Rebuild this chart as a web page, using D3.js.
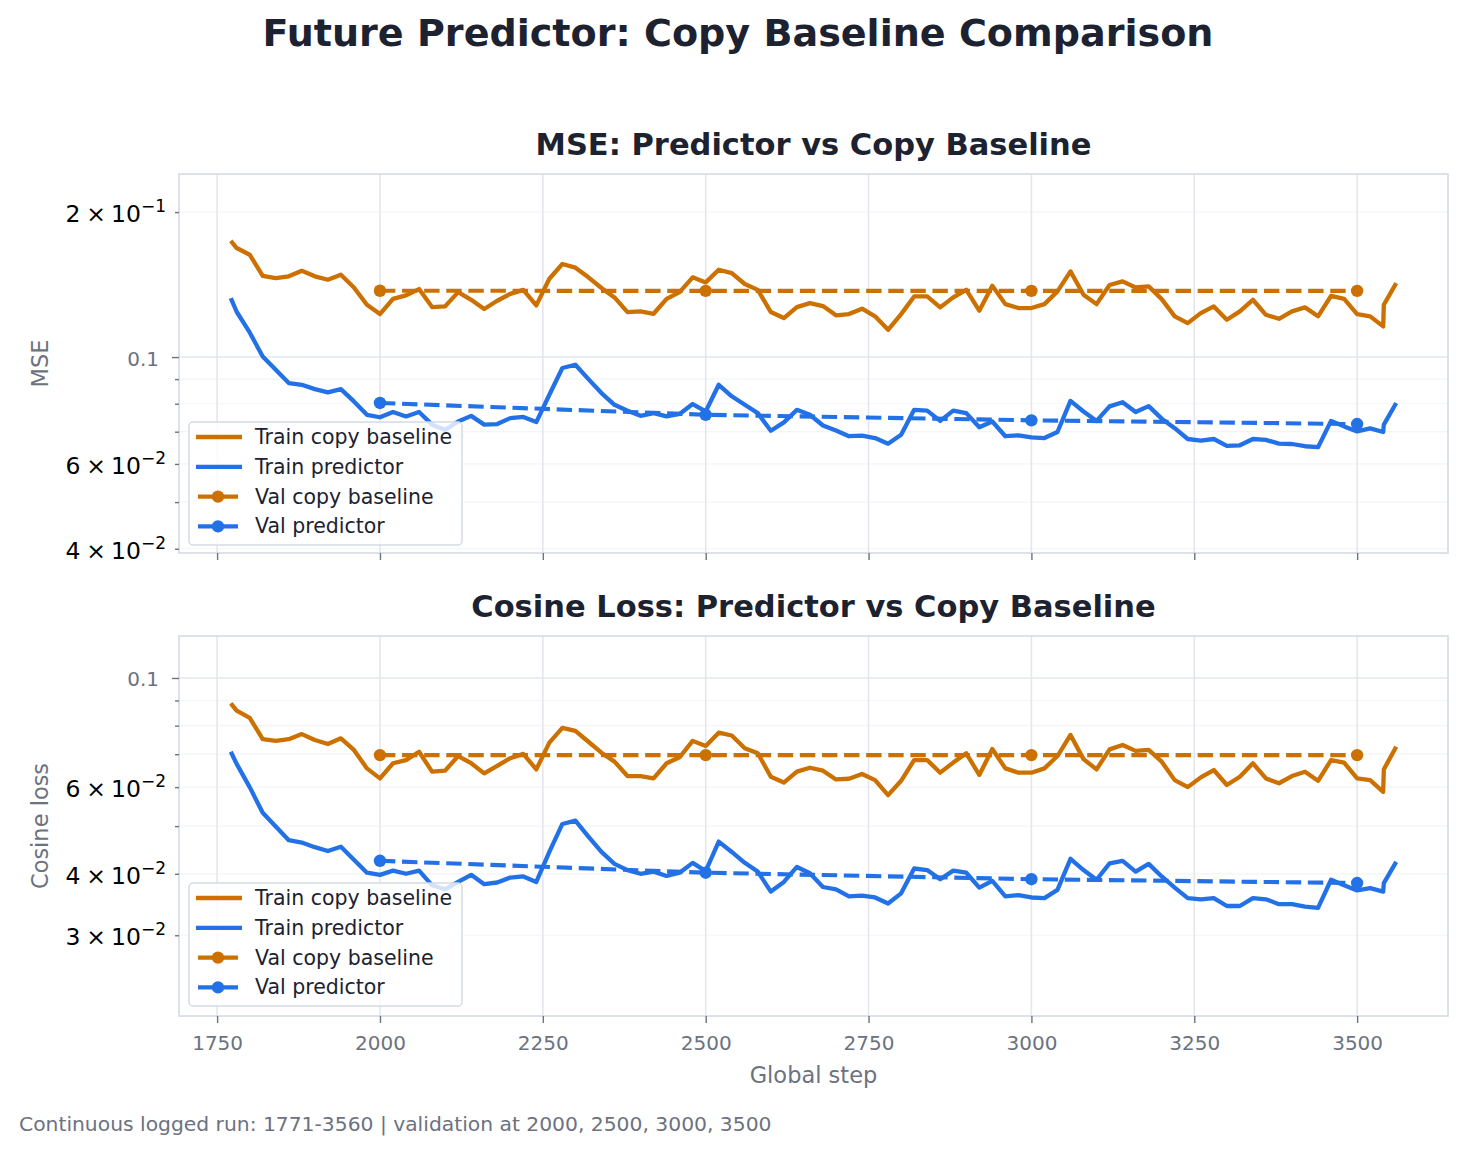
<!DOCTYPE html>
<html>
<head>
<meta charset="utf-8">
<script src="https://cdn.jsdelivr.net/npm/d3@7"></script>
<style>
body { margin: 0; background: #fff; }
svg { display: block; font-family: "DejaVu Sans", sans-serif; }
</style>
</head>
<body>
<svg id="chart" width="1466" height="1152"></svg>
<script>
// logged training steps (one log to 3540, the resumed one from 3541)
var trainSteps = [1771, 1780, 1800, 1820, 1840, 1860, 1880, 1900, 1920, 1940, 1960, 1980,
	2000, 2020, 2040, 2060, 2080, 2100, 2120, 2140, 2160, 2180, 2200, 2220, 2240, 2260, 2280,
	2300, 2320, 2340, 2360, 2380, 2400, 2420, 2440, 2460, 2480, 2500, 2520, 2540, 2560, 2580,
	2600, 2620, 2640, 2660, 2680, 2700, 2720, 2740, 2760, 2780, 2800, 2820, 2840, 2860, 2880,
	2900, 2920, 2940, 2960, 2980, 3000, 3020, 3040, 3060, 3080, 3100, 3120, 3140, 3160, 3180,
	3200, 3220, 3240, 3260, 3280, 3300, 3320, 3340, 3360, 3380, 3400, 3420, 3440, 3460, 3480,
	3500, 3520, 3540, 3541, 3560];

var trainCopyMse = [0.1743, 0.1684, 0.1631, 0.1475, 0.1459, 0.1471, 0.1510, 0.1471, 0.1447, 0.1482, 0.1395, 0.1284,
	0.1228, 0.1321, 0.1343, 0.1384, 0.1270, 0.1274, 0.1364, 0.1315, 0.1258, 0.1309, 0.1353, 0.1379, 0.1280, 0.1454, 0.1560,
	0.1533, 0.1464, 0.1391, 0.1330, 0.1240, 0.1244, 0.1230, 0.1321, 0.1364, 0.1464, 0.1429, 0.1518, 0.1494, 0.1418, 0.1379,
	0.1240, 0.1205, 0.1270, 0.1294, 0.1276, 0.1221, 0.1228, 0.1260, 0.1215, 0.1139, 0.1228, 0.1336, 0.1336, 0.1268, 0.1330,
	0.1379, 0.1248, 0.1406, 0.1288, 0.1264, 0.1264, 0.1288, 0.1369, 0.1506, 0.1347, 0.1288, 0.1411, 0.1436, 0.1395, 0.1402,
	0.1319, 0.1215, 0.1176, 0.1234, 0.1274, 0.1195, 0.1244, 0.1315, 0.1224, 0.1201, 0.1244, 0.1268, 0.1215, 0.1340, 0.1321,
	0.1228, 0.1215, 0.1158, 0.1284, 0.1424];

var trainPredMse = [0.1326, 0.1242, 0.1125, 0.1003, 0.0941, 0.0883, 0.0876, 0.0858, 0.0845, 0.0858, 0.0809, 0.0759,
	0.0750, 0.0769, 0.0753, 0.0769, 0.0724, 0.0706, 0.0735, 0.0755, 0.0724, 0.0726, 0.0747, 0.0751, 0.0733, 0.0835, 0.0949,
	0.0964, 0.0900, 0.0842, 0.0796, 0.0774, 0.0755, 0.0765, 0.0753, 0.0762, 0.0799, 0.0771, 0.0876, 0.0829, 0.0796, 0.0765,
	0.0703, 0.0732, 0.0777, 0.0759, 0.0721, 0.0704, 0.0685, 0.0687, 0.0679, 0.0661, 0.0690, 0.0777, 0.0774, 0.0737, 0.0774,
	0.0765, 0.0715, 0.0735, 0.0685, 0.0688, 0.0681, 0.0679, 0.0699, 0.0811, 0.0771, 0.0737, 0.0790, 0.0806, 0.0769, 0.0791,
	0.0745, 0.0712, 0.0676, 0.0671, 0.0676, 0.0654, 0.0656, 0.0676, 0.0673, 0.0661, 0.0660, 0.0653, 0.0650, 0.0737, 0.0718,
	0.0701, 0.0711, 0.0699, 0.0724, 0.0803];

var trainCopyCos = [0.0888, 0.0858, 0.0830, 0.0751, 0.0745, 0.0751, 0.0769, 0.0748, 0.0734, 0.0754, 0.0714, 0.0655,
	0.0625, 0.0671, 0.0681, 0.0708, 0.0645, 0.0648, 0.0694, 0.0671, 0.0640, 0.0663, 0.0687, 0.0701, 0.0652, 0.0739, 0.0792,
	0.0781, 0.0742, 0.0705, 0.0676, 0.0632, 0.0632, 0.0625, 0.0671, 0.0690, 0.0745, 0.0727, 0.0774, 0.0764, 0.0720, 0.0703,
	0.0630, 0.0613, 0.0645, 0.0657, 0.0648, 0.0622, 0.0624, 0.0638, 0.0620, 0.0578, 0.0618, 0.0681, 0.0681, 0.0642, 0.0673,
	0.0703, 0.0635, 0.0717, 0.0655, 0.0642, 0.0642, 0.0655, 0.0694, 0.0766, 0.0684, 0.0652, 0.0716, 0.0731, 0.0711, 0.0714,
	0.0676, 0.0620, 0.0600, 0.0628, 0.0650, 0.0606, 0.0630, 0.0671, 0.0625, 0.0611, 0.0632, 0.0645, 0.0618, 0.0681, 0.0673,
	0.0625, 0.0620, 0.0587, 0.0652, 0.0725];

var trainPredCos = [0.0708, 0.0669, 0.0600, 0.0532, 0.0499, 0.0468, 0.0463, 0.0453, 0.0445, 0.0454, 0.0427, 0.0402,
	0.0398, 0.0406, 0.0400, 0.0406, 0.0379, 0.0372, 0.0385, 0.0398, 0.0381, 0.0384, 0.0393, 0.0395, 0.0385, 0.0443, 0.0505,
	0.0513, 0.0476, 0.0443, 0.0419, 0.0407, 0.0400, 0.0404, 0.0396, 0.0402, 0.0421, 0.0405, 0.0465, 0.0443, 0.0421, 0.0404,
	0.0368, 0.0385, 0.0413, 0.0401, 0.0376, 0.0372, 0.0360, 0.0361, 0.0358, 0.0348, 0.0365, 0.0410, 0.0407, 0.0390, 0.0406,
	0.0402, 0.0375, 0.0387, 0.0360, 0.0362, 0.0358, 0.0357, 0.0371, 0.0429, 0.0407, 0.0389, 0.0420, 0.0425, 0.0404, 0.0419,
	0.0395, 0.0375, 0.0357, 0.0355, 0.0357, 0.0344, 0.0344, 0.0357, 0.0355, 0.0347, 0.0347, 0.0343, 0.0341, 0.0389, 0.0379,
	0.0370, 0.0374, 0.0368, 0.0383, 0.0423];

var valSteps = [2000, 2500, 3000, 3500];
var valCopyMse = [0.1373, 0.1372, 0.1372, 0.1372];
var valPredMse = [0.0803, 0.0759, 0.0739, 0.0726];
var valCopyCos = [0.0697, 0.0697, 0.0697, 0.0697];
var valPredCos = [0.0425, 0.0402, 0.0390, 0.0383];

var xTicks = [1750, 2000, 2250, 2500, 2750, 3000, 3250, 3500];
var mseMinor = [0.04, 0.05, 0.06, 0.07, 0.08, 0.09, 0.2];
var cosMinor = [0.03, 0.04, 0.05, 0.06, 0.07, 0.08, 0.09];
var mseMinorLabels = [[0.2, "2", "\u22121"], [0.06, "6", "\u22122"], [0.04, "4", "\u22122"]];
var cosMinorLabels = [[0.06, "6", "\u22122"], [0.04, "4", "\u22122"], [0.03, "3", "\u22122"]];
var legendNames = ["Train copy baseline", "Train predictor", "Val copy baseline", "Val predictor"];

var orange = "#cc7000", blue = "#2371e7";
var ink = "#1c2230", grey = "#6b7280", frameCol = "#d5dae3", gridCol = "#e3e7ed", gridMinor = "#f3f4f7";

var svg = d3.select("#chart");
var left = 179, right = 1448;

var x = d3.scaleLinear().domain([1691.5, 3639.5]).range([left, right]);

svg.append("text")
	.attr("x", 738).attr("y", 46)
	.attr("text-anchor", "middle")
	.attr("font-size", "38.1px").attr("font-weight", "bold")
	.attr("fill", ink)
	.text("Future Predictor: Copy Baseline Comparison");

drawPanel({
	top: 174, bottom: 553, yDomain: [0.0392, 0.2399],
	title: "MSE: Predictor vs Copy Baseline", titleY: 155,
	ylabel: "MSE", minor: mseMinor, minorLabels: mseMinorLabels,
	trainCopy: trainCopyMse, trainPred: trainPredMse, valCopy: valCopyMse, valPred: valPredMse,
	legendTop: 422, xLabels: false
});

drawPanel({
	top: 636, bottom: 1016, yDomain: [0.02056, 0.1217],
	title: "Cosine Loss: Predictor vs Copy Baseline", titleY: 617,
	ylabel: "Cosine loss", minor: cosMinor, minorLabels: cosMinorLabels,
	trainCopy: trainCopyCos, trainPred: trainPredCos, valCopy: valCopyCos, valPred: valPredCos,
	legendTop: 883, xLabels: true
});

svg.append("text")
	.attr("x", (left + right) / 2).attr("y", 1083)
	.attr("text-anchor", "middle")
	.attr("font-size", "22.5px").attr("fill", grey)
	.text("Global step");

svg.append("text")
	.attr("x", 19).attr("y", 1131)
	.attr("font-size", "20.3px").attr("fill", grey)
	.text("Continuous logged run: 1771-3560 | validation at 2000, 2500, 3000, 3500");

function drawPanel(p) {
	var g = svg.append("g");
	var y = d3.scaleLog().domain(p.yDomain).range([p.bottom, p.top]);

	// grid
	g.selectAll(".minor-grid").data(p.minor).enter().append("line")
		.attr("x1", left).attr("x2", right)
		.attr("y1", d => y(d)).attr("y2", d => y(d))
		.attr("stroke", gridMinor).attr("stroke-width", 1.2);
	g.append("line")
		.attr("x1", left).attr("x2", right)
		.attr("y1", y(0.1)).attr("y2", y(0.1))
		.attr("stroke", gridCol).attr("stroke-width", 1.6);
	g.selectAll(".v-grid").data(xTicks).enter().append("line")
		.attr("x1", d => x(d)).attr("x2", d => x(d))
		.attr("y1", p.top).attr("y2", p.bottom)
		.attr("stroke", gridCol).attr("stroke-width", 1.6);

	// frame
	g.append("rect")
		.attr("x", left).attr("y", p.top)
		.attr("width", right - left).attr("height", p.bottom - p.top)
		.attr("fill", "none").attr("stroke", frameCol).attr("stroke-width", 1.6);

	// y ticks
	var yMinorAxis = g.append("g").attr("transform", `translate(${left},0)`)
		.call(d3.axisLeft(y).tickValues(p.minor).tickSize(4).tickFormat(""));
	var yMajorAxis = g.append("g").attr("transform", `translate(${left},0)`)
		.call(d3.axisLeft(y).tickValues([0.1]).tickSize(7).tickPadding(13).tickFormat(() => "0.1"));
	[yMinorAxis, yMajorAxis].forEach(a => {
		a.select(".domain").remove();
		a.selectAll("line").attr("stroke", grey).attr("stroke-width", 1.4);
	});
	yMajorAxis.selectAll("text")
		.attr("font-family", "DejaVu Sans").attr("font-size", "20px")
		.attr("fill", grey).attr("dy", null).attr("y", 8);

	// 2 x 10^-1 style minor labels
	var ml = g.selectAll(".minor-label").data(p.minorLabels).enter().append("text")
		.attr("x", 166).attr("y", d => y(d[0]) + 10)
		.attr("text-anchor", "end")
		.attr("font-size", "23.5px").attr("fill", "#000");
	ml.append("tspan").text(d => d[1]);
	ml.append("tspan").attr("dx", 6).text("\u00d7");
	ml.append("tspan").attr("dx", 5).text("10");
	ml.append("tspan").attr("dy", -10).attr("font-size", "17px").text(d => d[2]);

	// x ticks
	var xa = g.append("g").attr("transform", `translate(0,${p.bottom})`)
		.call(d3.axisBottom(x).tickValues(xTicks).tickSize(7).tickPadding(13)
			.tickFormat(p.xLabels ? d3.format("d") : ""));
	xa.select(".domain").remove();
	xa.selectAll("line").attr("stroke", grey).attr("stroke-width", 1.4);
	xa.selectAll("text").attr("font-family", "DejaVu Sans").attr("font-size", "20px").attr("fill", grey);

	// titles
	svg.append("text")
		.attr("x", (left + right) / 2).attr("y", p.titleY)
		.attr("text-anchor", "middle")
		.attr("font-size", "30.5px").attr("font-weight", "bold").attr("fill", ink)
		.text(p.title);
	svg.append("text")
		.attr("transform", `translate(48,${(p.top + p.bottom) / 2}) rotate(-90)`)
		.attr("text-anchor", "middle")
		.attr("font-size", "22.5px").attr("fill", grey)
		.text(p.ylabel);

	// series
	var line = d3.line().x(d => x(d[0])).y(d => y(d[1]));

	g.append("path").datum(d3.zip(trainSteps, p.trainCopy))
		.attr("d", line).attr("fill", "none")
		.attr("stroke", orange).attr("stroke-width", 4.3).attr("stroke-linejoin", "round");
	g.append("path").datum(d3.zip(trainSteps, p.trainPred))
		.attr("d", line).attr("fill", "none")
		.attr("stroke", blue).attr("stroke-width", 4.3).attr("stroke-linejoin", "round");

	[[p.valCopy, orange], [p.valPred, blue]].forEach(s => {
		var pts = d3.zip(valSteps, s[0]);
		g.append("path").datum(pts)
			.attr("d", line).attr("fill", "none")
			.attr("stroke", s[1]).attr("stroke-width", 4.1)
			.attr("stroke-dasharray", "15.4,6.7");
		g.selectAll(null).data(pts).enter().append("circle")
			.attr("cx", d => x(d[0])).attr("cy", d => y(d[1]))
			.attr("r", 6.2).attr("fill", s[1]);
	});

	// legend
	var lg = g.append("g").attr("transform", `translate(189,${p.legendTop})`);
	lg.append("rect")
		.attr("width", 273).attr("height", 123).attr("rx", 4)
		.attr("fill", "#fff").attr("fill-opacity", 0.8)
		.attr("stroke", frameCol).attr("stroke-width", 1.5);
	var colors = [orange, blue, orange, blue];
	legendNames.forEach((name, i) => {
		var ry = 15 + i * 29.8;
		if (i < 2) {
			lg.append("line").attr("x1", 7).attr("x2", 53).attr("y1", ry).attr("y2", ry)
				.attr("stroke", colors[i]).attr("stroke-width", 4.3);
		} else {
			lg.append("line").attr("x1", 9).attr("x2", 49).attr("y1", ry).attr("y2", ry)
				.attr("stroke", colors[i]).attr("stroke-width", 4.1);
			lg.append("circle").attr("cx", 29).attr("cy", ry).attr("r", 6.2).attr("fill", colors[i]);
		}
		lg.append("text").attr("x", 66).attr("y", ry + 7)
			.attr("font-size", "20.5px").attr("fill", ink)
			.text(name);
	});
}
</script>
</body>
</html>
